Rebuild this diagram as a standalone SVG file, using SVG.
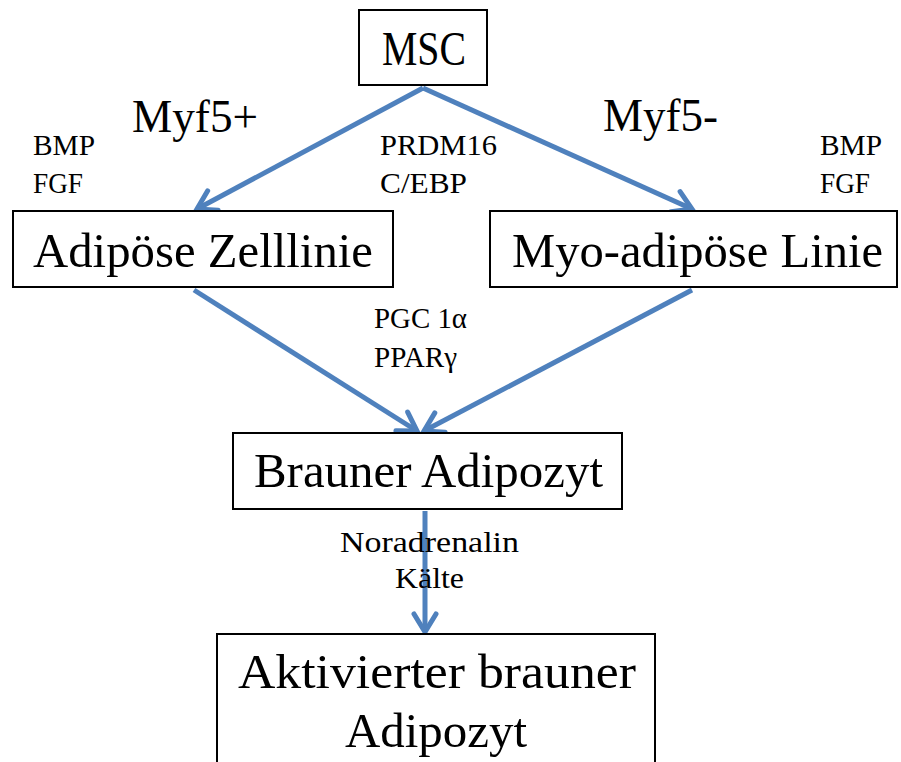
<svg xmlns="http://www.w3.org/2000/svg" width="901" height="762" viewBox="0 0 901 762">
<defs>
<style>
.box{fill:#fff;stroke:#000;stroke-width:2}
.t{font-family:"Liberation Serif",serif;fill:#000}
.big{font-size:49px}
.mid{font-size:46px}
.sm{font-size:30px}
.c{stroke:#4f81bd;stroke-width:5;fill:none}
</style>
<marker id="ah" viewBox="-22 -14 26 28" refX="0" refY="0" markerWidth="26" markerHeight="28" markerUnits="userSpaceOnUse" orient="auto">
<path d="M-18,-11 L0,0 L-18,11" fill="none" stroke="#4f81bd" stroke-width="5" stroke-linecap="round" stroke-linejoin="miter"/>
</marker>
</defs>
<rect width="901" height="762" fill="#fff"/>
<g id="connectors">
<line class="c" x1="423" y1="88" x2="197" y2="209" marker-end="url(#ah)"/>
<line class="c" x1="423" y1="88" x2="692" y2="209" marker-end="url(#ah)"/>
<line class="c" x1="194" y1="290" x2="417" y2="431" marker-end="url(#ah)"/>
<line class="c" x1="692" y1="290" x2="424" y2="431" marker-end="url(#ah)"/>
<line class="c" x1="425" y1="511" x2="425" y2="632" marker-end="url(#ah)"/>
</g>
<g id="msc">
<rect class="box" x="359" y="10" width="128" height="75"/>
<text class="t big" x="382" y="65" textLength="84" lengthAdjust="spacingAndGlyphs">MSC</text>
</g>
<g id="adipose">
<rect class="box" x="13" y="211" width="380" height="76"/>
<text class="t big" x="33" y="267" textLength="340" lengthAdjust="spacingAndGlyphs">Adipöse Zelllinie</text>
</g>
<g id="myo">
<rect class="box" x="490" y="211" width="407" height="76"/>
<text class="t big" x="512" y="267" textLength="371" lengthAdjust="spacingAndGlyphs">Myo-adipöse Linie</text>
</g>
<g id="brauner">
<rect class="box" x="233" y="433" width="389" height="76"/>
<text class="t big" x="254" y="487" textLength="349" lengthAdjust="spacingAndGlyphs">Brauner Adipozyt</text>
</g>
<g id="aktiviert">
<rect class="box" x="217" y="634" width="438" height="140"/>
<text class="t big" x="238" y="688" textLength="398" lengthAdjust="spacingAndGlyphs">Aktivierter brauner</text>
<text class="t big" x="345" y="747" textLength="182" lengthAdjust="spacingAndGlyphs">Adipozyt</text>
</g>
<g id="labels">
<text class="t mid" x="132" y="132" textLength="126" lengthAdjust="spacingAndGlyphs">Myf5+</text>
<text class="t mid" x="603" y="131" textLength="115" lengthAdjust="spacingAndGlyphs">Myf5-</text>
<text class="t sm" x="33" y="155" textLength="62" lengthAdjust="spacingAndGlyphs">BMP</text>
<text class="t sm" x="33" y="193" textLength="50" lengthAdjust="spacingAndGlyphs">FGF</text>
<text class="t sm" x="380" y="155" textLength="117" lengthAdjust="spacingAndGlyphs">PRDM16</text>
<text class="t sm" x="380" y="193" textLength="87" lengthAdjust="spacingAndGlyphs">C/EBP</text>
<text class="t sm" x="820" y="155" textLength="62" lengthAdjust="spacingAndGlyphs">BMP</text>
<text class="t sm" x="820" y="193" textLength="50" lengthAdjust="spacingAndGlyphs">FGF</text>
<text class="t sm" x="374" y="328" textLength="93" lengthAdjust="spacingAndGlyphs">PGC 1α</text>
<text class="t sm" x="374" y="367" textLength="83" lengthAdjust="spacingAndGlyphs">PPARγ</text>
<text class="t sm" x="340" y="552" textLength="179" lengthAdjust="spacingAndGlyphs">Noradrenalin</text>
<text class="t sm" x="395" y="588" textLength="69" lengthAdjust="spacingAndGlyphs">Kälte</text>
</g>
</svg>
